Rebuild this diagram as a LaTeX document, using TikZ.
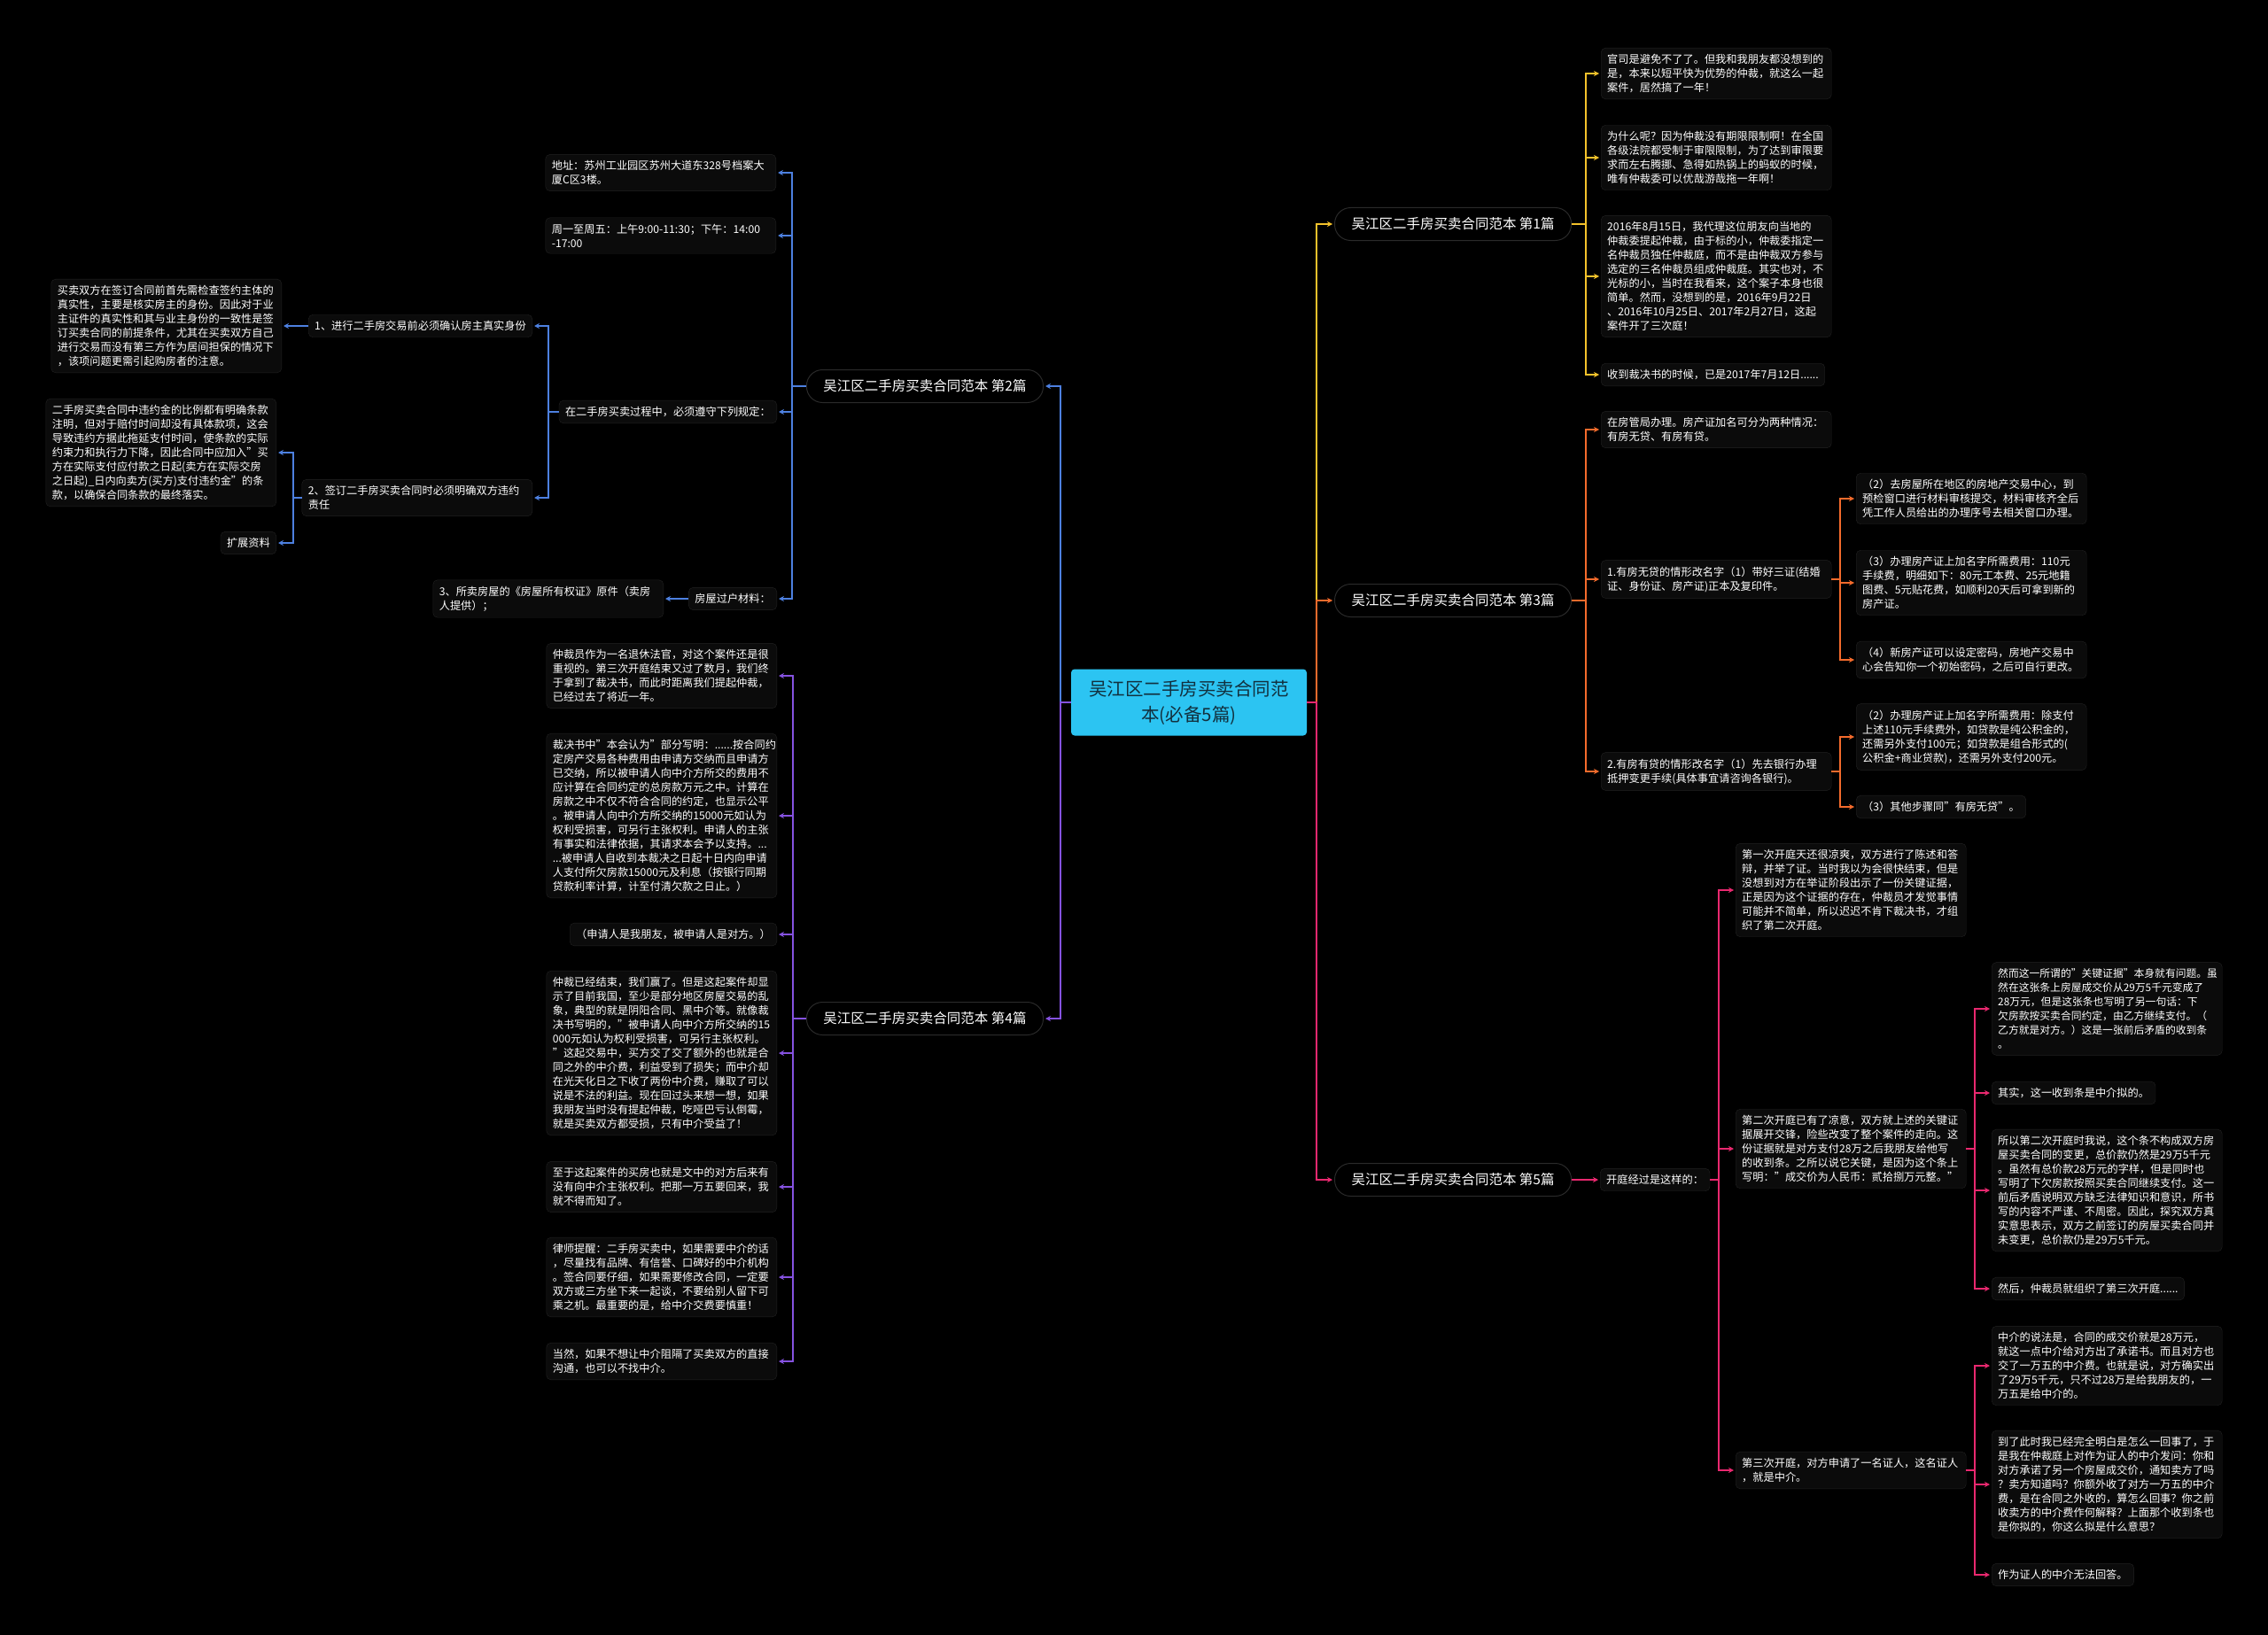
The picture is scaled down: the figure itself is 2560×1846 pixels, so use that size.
\documentclass[tikz,border=0pt]{standalone}
\usepackage{fontspec}
\setmainfont{Noto Sans CJK SC}
\usetikzlibrary{arrows.meta}
\definecolor{cyanC}{HTML}{2CC4F2}
\definecolor{rootText}{HTML}{12303E}
\definecolor{yelC}{HTML}{F4C22B}
\definecolor{orgC}{HTML}{F46B2C}
\definecolor{pnkC}{HTML}{E9286F}
\definecolor{bluC}{HTML}{4D80E0}
\definecolor{purC}{HTML}{8552E0}
\definecolor{boxline}{HTML}{222222}
\definecolor{boxfill}{HTML}{0B0B0B}
\definecolor{pillline}{HTML}{2A2A2A}
\tikzset{
 leaf/.style={draw=boxline, fill=boxfill, rounded corners=5pt, text=white,
   font=\fontsize{12.2}{16}\selectfont, align=left, inner xsep=7pt, inner ysep=7pt},
 wleaf/.style={leaf, text width=246pt},
 pill/.style={draw=pillline, line width=1pt, fill=black, rounded corners=18pt, text=white,
   font=\fontsize{15.5}{18}\selectfont, minimum height=37pt, inner xsep=19pt},
 rootbox/.style={fill=cyanC, rounded corners=4pt, text=rootText,
   font=\fontsize{20.5}{29}\selectfont, align=center, text width=240pt,
   minimum width=266pt, minimum height=75pt},
 conn/.style={line width=1.8pt, -{Stealth[length=6pt,width=6pt]}, shorten >=2pt},
}
\begin{document}
\begin{tikzpicture}[x=1pt,y=-1pt]
\fill[black] (0,0) rectangle (2560,1846);
\useasboundingbox (0,0) rectangle (2560,1846);

% trunk coordinates
\coordinate (tR) at (1486,0);
\coordinate (tL) at (1197,0);
\coordinate (t1) at (1790,0);
\coordinate (t3) at (1790,0);
\coordinate (t3a) at (2077,0);
\coordinate (t5) at (1940,0);
\coordinate (t5a) at (2229,0);
\coordinate (t2) at (894,0);
\coordinate (t2a) at (619,0);
\coordinate (t2b) at (331,0);
\coordinate (t4) at (895,0);

% root and main branches
\node[rootbox] (root) at (1342,793) {吴江区二手房买卖合同范\\本(必备5篇)};
\node[pill, anchor=west] (p1) at (1506,253) {吴江区二手房买卖合同范本 第1篇};
\node[pill, anchor=west] (p3) at (1506,678) {吴江区二手房买卖合同范本 第3篇};
\node[pill, anchor=west] (p5) at (1506,1332) {吴江区二手房买卖合同范本 第5篇};
\node[pill, anchor=east] (p2) at (1178,436) {吴江区二手房买卖合同范本 第2篇};
\node[pill, anchor=east] (p4) at (1178,1150) {吴江区二手房买卖合同范本 第4篇};

% ---- branch 1
\node[wleaf, anchor=west] (a1) at (1807,83) {官司是避免不了了。但我和我朋友都没想到的\\是，本来以短平快为优势的仲裁，就这么一起\\案件，居然搞了一年！};
\node[wleaf, anchor=west] (a2) at (1807,178) {为什么呢？因为仲裁没有期限限制啊！在全国\\各级法院都受制于审限限制，为了达到审限要\\求而左右腾挪、急得如热锅上的蚂蚁的时候，\\唯有仲裁委可以优哉游哉拖一年啊！};
\node[wleaf, anchor=west] (a3) at (1807,312) {2016年8月15日，我代理这位朋友向当地的\\仲裁委提起仲裁，由于标的小，仲裁委指定一\\名仲裁员独任仲裁庭，而不是由仲裁双方参与\\选定的三名仲裁员组成仲裁庭。其实也对，不\\光标的小，当时在我看来，这个案子本身也很\\简单。然而，没想到的是，2016年9月22日\\、2016年10月25日、2017年2月27日，这起\\案件开了三次庭！};
\node[leaf, anchor=west] (a4) at (1807,423) {收到裁决书的时候，已是2017年7月12日......};

% ---- branch 3
\node[wleaf, anchor=west] (c1) at (1807,485) {在房管局办理。房产证加名可分为两种情况：\\有房无贷、有房有贷。};
\node[wleaf, anchor=west] (c2) at (1807,654) {1.有房无贷的情形改名字（1）带好三证(结婚\\证、身份证、房产证)正本及复印件。};
\node[wleaf, anchor=west] (c3) at (1807,871) {2.有房有贷的情形改名字（1）先去银行办理\\抵押变更手续(具体事宜请咨询各银行)。};
\node[wleaf, anchor=west] (c21) at (2095,563) {（2）去房屋所在地区的房地产交易中心，到\\预检窗口进行材料审核提交，材料审核齐全后\\凭工作人员给出的办理序号去相关窗口办理。};
\node[wleaf, anchor=west] (c22) at (2095,658) {（3）办理房产证上加名字所需费用：110元\\手续费，明细如下：80元工本费、25元地籍\\图费、5元贴花费，如顺利20天后可拿到新的\\房产证。};
\node[wleaf, anchor=west] (c23) at (2095,745) {（4）新房产证可以设定密码，房地产交易中\\心会告知你一个初始密码，之后可自行更改。};
\node[wleaf, anchor=west] (c31) at (2095,832) {（2）办理房产证上加名字所需费用：除支付\\上述110元手续费外，如贷款是纯公积金的，\\还需另外支付100元；如贷款是组合形式的(\\公积金+商业贷款)，还需另外支付200元。};
\node[leaf, anchor=west] (c32) at (2095,911) {（3）其他步骤同"有房无贷"。};

% ---- branch 5
\node[leaf, anchor=west] (k) at (1806,1332) {开庭经过是这样的：};
\node[wleaf, anchor=west] (e1) at (1959,1005) {第一次开庭天还很凉爽，双方进行了陈述和答\\辩，并举了证。当时我以为会很快结束，但是\\没想到对方在举证阶段出示了一份关键证据，\\正是因为这个证据的存在，仲裁员才发觉事情\\可能并不简单，所以迟迟不肯下裁决书，才组\\织了第二次开庭。};
\node[wleaf, anchor=west] (e2) at (1959,1297) {第二次开庭已有了凉意，双方就上述的关键证\\据展开交锋，险些改变了整个案件的走向。这\\份证据就是对方支付28万之后我朋友给他写\\的收到条。之所以说它关键，是因为这个条上\\写明："成交价为人民币：贰拾捌万元整。"};
\node[wleaf, anchor=west] (e3) at (1959,1660) {第三次开庭，对方申请了一名证人，这名证人\\，就是中介。};
\node[wleaf, anchor=west, font=\fontsize{11.8}{16}\selectfont] (e21) at (2248,1139) {然而这一所谓的"关键证据"本身就有问题。虽\\然在这张条上房屋成交价从29万5千元变成了\\28万元，但是这张条也写明了另一句话：下\\欠房款按买卖合同约定，由乙方继续支付。（\\乙方就是对方。）这是一张前后矛盾的收到条\\。};
\node[leaf, anchor=west] (e22) at (2248,1234) {其实，这一收到条是中介拟的。};
\node[wleaf, anchor=west] (e23) at (2248,1344) {所以第二次开庭时我说，这个条不构成双方房\\屋买卖合同的变更，总价款仍然是29万5千元\\。虽然有总价款28万元的字样，但是同时也\\写明了下欠房款按照买卖合同继续支付。这一\\前后矛盾说明双方缺乏法律知识和意识，所书\\写的内容不严谨、不周密。因此，探究双方真\\实意思表示，双方之前签订的房屋买卖合同并\\未变更，总价款仍是29万5千元。};
\node[leaf, anchor=west] (e24) at (2248,1455) {然后，仲裁员就组织了第三次开庭......};
\node[wleaf, anchor=west] (e31) at (2248,1542) {中介的说法是，合同的成交价就是28万元，\\就这一点中介给对方出了承诺书。而且对方也\\交了一万五的中介费。也就是说，对方确实出\\了29万5千元，只不过28万是给我朋友的，一\\万五是给中介的。};
\node[wleaf, anchor=west] (e32) at (2248,1676) {到了此时我已经完全明白是怎么一回事了，于\\是我在仲裁庭上对作为证人的中介发问：你和\\对方承诺了另一个房屋成交价，通知卖方了吗\\？卖方知道吗？你额外收了对方一万五的中介\\费，是在合同之外收的，算怎么回事？你之前\\收卖方的中介费作何解释？上面那个收到条也\\是你拟的，你这么拟是什么意思？};
\node[leaf, anchor=west] (e33) at (2248,1778) {作为证人的中介无法回答。};

% ---- branch 2
\node[wleaf, anchor=east] (b1) at (876,195) {地址：苏州工业园区苏州大道东328号档案大\\厦C区3楼。};
\node[wleaf, anchor=east] (b2) at (876,266) {周一至周五：上午9:00-11:30；下午：14:00\\-17:00};
\node[leaf, anchor=east] (b3) at (877,465) {在二手房买卖过程中，必须遵守下列规定：};
\node[leaf, anchor=east] (b4) at (877,676) {房屋过户材料：};
\node[leaf, anchor=east] (b31) at (601,368) {1、进行二手房交易前必须确认房主真实身份};
\node[wleaf, anchor=east] (b32) at (601,562) {2、签订二手房买卖合同时必须明确双方违约\\责任};
\node[wleaf, anchor=east] (b311) at (318,368) {买卖双方在签订合同前首先需检查签约主体的\\真实性，主要是核实房主的身份。因此对于业\\主证件的真实性和其与业主身份的一致性是签\\订买卖合同的前提条件，尤其在买卖双方自己\\进行交易而没有第三方作为居间担保的情况下\\，该项问题更需引起购房者的注意。};
\node[wleaf, anchor=east] (b321) at (312,511) {二手房买卖合同中违约金的比例都有明确条款\\注明，但对于赔付时间却没有具体款项，这会\\导致违约方据此拖延支付时间，使条款的实际\\约束力和执行力下降，因此合同中应加入"买\\方在实际支付应付款之日起(卖方在实际交房\\之日起)\_日内向卖方(买方)支付违约金"的条\\款，以确保合同条款的最终落实。};
\node[leaf, anchor=east] (b322) at (312,613) {扩展资料};
\node[wleaf, anchor=east] (b41) at (749,676) {3、所卖房屋的《房屋所有权证》原件（卖房\\人提供）；};

% ---- branch 4
\node[wleaf, anchor=east] (d1) at (877,763) {仲裁员作为一名退休法官，对这个案件还是很\\重视的。第三次开庭结束又过了数月，我们终\\于拿到了裁决书，而此时距离我们提起仲裁，\\已经过去了将近一年。};
\node[wleaf, anchor=east] (d2) at (877,921) {裁决书中"本会认为"部分写明：......按合同约\\定房产交易各种费用由申请方交纳而且申请方\\已交纳，所以被申请人向中介方所交的费用不\\应计算在合同约定的总房款万元之中。计算在\\房款之中不仅不符合合同的约定，也显示公平\\。被申请人向中介方所交纳的15000元如认为\\权利受损害，可另行主张权利。申请人的主张\\有事实和法律依据，其请求本会予以支持。...\\...被申请人自收到本裁决之日起十日内向申请\\人支付所欠房款15000元及利息（按银行同期\\贷款利率计算，计至付清欠款之日止。）};
\node[leaf, anchor=east] (d3) at (877,1055) {（申请人是我朋友，被申请人是对方。）};
\node[wleaf, anchor=east] (d4) at (877,1189) {仲裁已经结束，我们赢了。但是这起案件却显\\示了目前我国，至少是部分地区房屋交易的乱\\象，典型的就是阴阳合同、黑中介等。就像裁\\决书写明的，"被申请人向中介方所交纳的15\\000元如认为权利受损害，可另行主张权利。\\"这起交易中，买方交了交了额外的也就是合\\同之外的中介费，利益受到了损失；而中介却\\在光天化日之下收了两份中介费，赚取了可以\\说是不法的利益。现在回过头来想一想，如果\\我朋友当时没有提起仲裁，吃哑巴亏认倒霉，\\就是买卖双方都受损，只有中介受益了！};
\node[wleaf, anchor=east] (d5) at (877,1340) {至于这起案件的买房也就是文中的对方后来有\\没有向中介主张权利。把那一万五要回来，我\\就不得而知了。};
\node[wleaf, anchor=east] (d6) at (877,1442) {律师提醒：二手房买卖中，如果需要中介的话\\，尽量找有品牌、有信誉、口碑好的中介机构\\。签合同要仔细，如果需要修改合同，一定要\\双方或三方坐下来一起谈，不要给别人留下可\\乘之机。最重要的是，给中介交费要慎重！};
\node[wleaf, anchor=east] (d7) at (877,1537) {当然，如果不想让中介阻隔了买卖双方的直接\\沟通，也可以不找中介。};

% ---- connectors: root to main branches
\draw[conn, yelC] (root.east) -- (root.east -| tR) |- (p1.west);
\draw[conn, orgC] (root.east) -- (root.east -| tR) |- (p3.west);
\draw[conn, pnkC] (root.east) -- (root.east -| tR) |- (p5.west);
\draw[conn, bluC] (root.west) -- (root.west -| tL) |- (p2.east);
\draw[conn, purC] (root.west) -- (root.west -| tL) |- (p4.east);

% branch 1
\foreach \n in {a1,a2,a3,a4}
  \draw[conn, yelC] (p1.east) -- (p1.east -| t1) |- (\n.west);
% branch 3
\foreach \n in {c1,c2,c3}
  \draw[conn, orgC] (p3.east) -- (p3.east -| t3) |- (\n.west);
\foreach \n in {c21,c22,c23}
  \draw[conn, orgC] (c2.east) -- (c2.east -| t3a) |- (\n.west);
\foreach \n in {c31,c32}
  \draw[conn, orgC] (c3.east) -- (c3.east -| t3a) |- (\n.west);
% branch 5
\draw[conn, pnkC] (p5.east) -- (k.west);
\foreach \n in {e1,e2,e3}
  \draw[conn, pnkC] (k.east) -- (k.east -| t5) |- (\n.west);
\foreach \n in {e21,e22,e23,e24}
  \draw[conn, pnkC] (e2.east) -- (e2.east -| t5a) |- (\n.west);
\foreach \n in {e31,e32,e33}
  \draw[conn, pnkC] (e3.east) -- (e3.east -| t5a) |- (\n.west);
% branch 2
\foreach \n in {b1,b2,b3,b4}
  \draw[conn, bluC] (p2.west) -- (p2.west -| t2) |- (\n.east);
\foreach \n in {b31,b32}
  \draw[conn, bluC] (b3.west) -- (b3.west -| t2a) |- (\n.east);
\draw[conn, bluC] (b31.west) -- (b311.east);
\foreach \n in {b321,b322}
  \draw[conn, bluC] (b32.west) -- (b32.west -| t2b) |- (\n.east);
\draw[conn, bluC] (b4.west) -- (b41.east);
% branch 4
\foreach \n in {d1,d2,d3,d4,d5,d6,d7}
  \draw[conn, purC] (p4.west) -- (p4.west -| t4) |- (\n.east);
\end{tikzpicture}
\end{document}
